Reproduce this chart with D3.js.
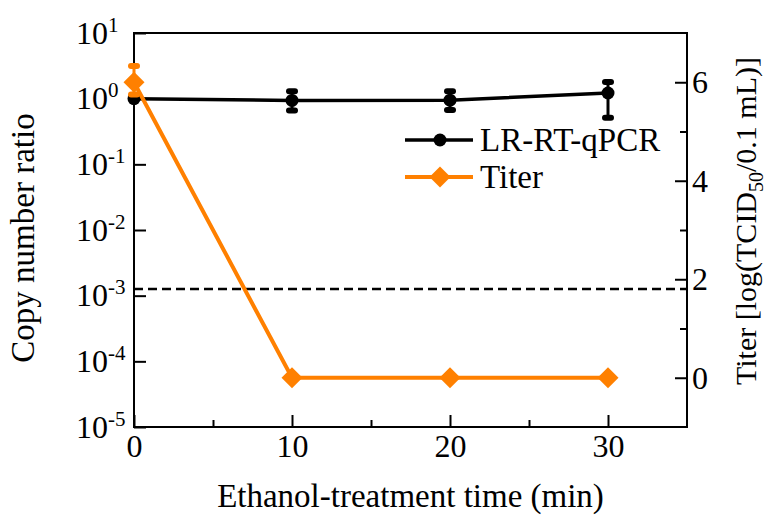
<!DOCTYPE html>
<html>
<head>
<meta charset="utf-8">
<script src="https://cdn.jsdelivr.net/npm/d3@7"></script>
<style>
  body { margin: 0; background: #fff; }
</style>
</head>
<body>
<script>
// data
const times = [0, 10, 20, 30];
const qpcrMean = [1.0, 0.94, 0.95, 1.22];
const qpcrErrUp = [0, 0.36, 0.35, 0.58];
const qpcrErrDown = [0, 0.28, 0.28, 0.71];
const titerMean = [6.0, 0, 0, 0];
const titerErrUp = [0.33, 0, 0, 0];
const titerErrDown = [0.25, 0, 0, 0];
const detectionLimit = 1.8;

const xTicks = [0, 10, 20, 30];
const xMinorTicks = [5, 15, 25];
const leftTicks = [1e-5, 1e-4, 1e-3, 1e-2, 1e-1, 1, 10];
const leftTickExp = ["-5", "-4", "-3", "-2", "-1", "0", "1"];
const rightTicks = [0, 2, 4, 6];
const rightMinorTicks = [1, 3, 5];
const seriesNames = ["LR-RT-qPCR", "Titer"];
const seriesColors = ["#000000", "#ff8000"];

const serif = '"Liberation Serif"';

let margin = null, width = null, height = null;
let svg = null;
let x, yL, yR = null;

setupCanvasSize();
appendSvg("body");
setupScales();
appendAxes();
appendDetectionLimit();
appendQpcr();
appendTiter();
appendLegend();
appendTitles();

function setupCanvasSize() {
  margin = {top: 33, left: 134, bottom: 88, right: 80};
  width = 767 - margin.left - margin.right;
  height = 515 - margin.top - margin.bottom;
}

function appendSvg(domElement) {
  svg = d3.select(domElement).append("svg")
    .attr("width", width + margin.left + margin.right)
    .attr("height", height + margin.top + margin.bottom)
    .attr("font-family", serif)
    .append("g")
    .attr("transform", `translate(${margin.left}, ${margin.top})`);
}

function setupScales() {
  x = d3.scaleLinear().domain([0, 35]).range([0, width]);
  yL = d3.scaleLog().domain([1e-5, 10]).range([height, 0]);
  yR = d3.scaleLinear().domain([-1, 7]).range([height, 0]);
}

function styleAxis(g) {
  g.select(".domain").remove();
  g.selectAll(".tick line").attr("stroke", "#000").attr("stroke-width", 2);
  g.attr("font-size", 32).attr("font-family", serif);
}

function appendAxes() {
  // bottom
  svg.append("g")
    .attr("transform", `translate(0, ${height})`)
    .call(d3.axisBottom(x).tickValues(xTicks).tickSizeInner(-12).tickSizeOuter(0).tickPadding(7))
    .call(styleAxis);
  svg.append("g")
    .attr("transform", `translate(0, ${height})`)
    .call(d3.axisBottom(x).tickValues(xMinorTicks).tickSizeInner(-7).tickSizeOuter(0).tickFormat(""))
    .call(styleAxis);

  // left, log scale with 10^n labels
  let left = svg.append("g")
    .call(d3.axisLeft(yL).tickValues(leftTicks).tickSizeInner(-12).tickSizeOuter(0).tickFormat(""))
    .call(styleAxis);
  left.selectAll(".tick text").remove();
  left.selectAll(".tick").each(function(d, i) {
    let t = d3.select(this).append("text")
      .attr("x", 76 - margin.left)
      .attr("dy", "0.32em")
      .attr("text-anchor", "start")
      .attr("fill", "#000");
    t.append("tspan").text("10");
    t.append("tspan").attr("font-size", 21).attr("dy", -12).text(leftTickExp[i]);
  });

  // right
  svg.append("g")
    .attr("transform", `translate(${width}, 0)`)
    .call(d3.axisRight(yR).tickValues(rightTicks).tickSizeInner(-12).tickSizeOuter(0).tickPadding(5))
    .call(styleAxis);
  svg.append("g")
    .attr("transform", `translate(${width}, 0)`)
    .call(d3.axisRight(yR).tickValues(rightMinorTicks).tickSizeInner(-7).tickSizeOuter(0).tickFormat(""))
    .call(styleAxis);

  // frame
  svg.append("rect")
    .attr("width", width)
    .attr("height", height)
    .attr("fill", "none")
    .attr("stroke", "#000")
    .attr("stroke-width", 2);
}

function appendDetectionLimit() {
  svg.append("line")
    .attr("x1", 0).attr("x2", width)
    .attr("y1", yR(detectionLimit)).attr("y2", yR(detectionLimit))
    .attr("stroke", "#000")
    .attr("stroke-width", 2.5)
    .attr("stroke-dasharray", "9,5");
}

function appendErrorBars(yScale, means, up, down, color) {
  let data = times.map((t, i) => ({t: t, m: means[i], u: up[i], d: down[i]}))
    .filter(d => d.u > 0 || d.d > 0);
  let bars = svg.append("g").selectAll("g").data(data).enter().append("g");
  bars.append("line")
    .attr("x1", d => x(d.t)).attr("x2", d => x(d.t))
    .attr("y1", d => yScale(d.m + d.u)).attr("y2", d => yScale(d.m - d.d))
    .attr("stroke", color).attr("stroke-width", 3);
  bars.selectAll("rect")
    .data(d => [{t: d.t, v: d.m + d.u}, {t: d.t, v: d.m - d.d}])
    .enter().append("rect")
    .attr("x", d => x(d.t) - 6)
    .attr("y", d => yScale(d.v) - 3)
    .attr("width", 12).attr("height", 6)
    .attr("rx", 3)
    .attr("fill", color);
}

function appendQpcr() {
  let line = d3.line().x((d, i) => x(times[i])).y(d => yL(d));
  svg.append("path")
    .datum(qpcrMean)
    .attr("d", line)
    .attr("fill", "none")
    .attr("stroke", seriesColors[0])
    .attr("stroke-width", 3.5);
  appendErrorBars(yL, qpcrMean, qpcrErrUp, qpcrErrDown, seriesColors[0]);
  svg.append("g").selectAll("circle")
    .data(qpcrMean).enter().append("circle")
    .attr("cx", (d, i) => x(times[i]))
    .attr("cy", d => yL(d))
    .attr("r", 6.5)
    .attr("fill", seriesColors[0]);
}

function appendTiter() {
  let line = d3.line().x((d, i) => x(times[i])).y(d => yR(d));
  svg.append("path")
    .datum(titerMean)
    .attr("d", line)
    .attr("fill", "none")
    .attr("stroke", seriesColors[1])
    .attr("stroke-width", 4);
  appendErrorBars(yR, titerMean, titerErrUp, titerErrDown, seriesColors[1]);
  svg.append("g").selectAll("path")
    .data(titerMean).enter().append("path")
    .attr("d", d3.symbol(d3.symbolSquare, 220))
    .attr("transform", (d, i) => `translate(${x(times[i])}, ${yR(d)}) rotate(45)`)
    .attr("fill", seriesColors[1]);
}

function appendLegend() {
  let legend = svg.selectAll(".legend")
    .data(seriesNames)
    .enter()
    .append("g")
    .attr("class", "legend")
    .attr("transform", (d, i) => `translate(${405 - margin.left}, ${140 - margin.top + i * 37})`);
  legend.append("line")
    .attr("x1", 0).attr("x2", 68)
    .attr("stroke", (d, i) => seriesColors[i])
    .attr("stroke-width", (d, i) => i == 0 ? 3.5 : 4);
  legend.filter((d, i) => i == 0).append("circle")
    .attr("cx", 35).attr("r", 6.5).attr("fill", seriesColors[0]);
  legend.filter((d, i) => i == 1).append("path")
    .attr("d", d3.symbol(d3.symbolSquare, 220))
    .attr("transform", "translate(35, 0) rotate(45)")
    .attr("fill", seriesColors[1]);
  legend.append("text")
    .attr("x", 75)
    .attr("dy", "0.33em")
    .attr("font-size", 33)
    .text(d => d);
}

function appendTitles() {
  svg.append("text")
    .attr("x", width / 2)
    .attr("y", 507 - margin.top)
    .attr("text-anchor", "middle")
    .attr("font-size", 33)
    .text("Ethanol-treatment time (min)");

  svg.append("text")
    .attr("transform", `translate(${34 - margin.left}, ${238 - margin.top}) rotate(-90)`)
    .attr("text-anchor", "middle")
    .attr("font-size", 33)
    .text("Copy number ratio");

  let rt = svg.append("text")
    .attr("transform", `translate(${756 - margin.left}, ${221 - margin.top}) rotate(-90)`)
    .attr("text-anchor", "middle")
    .attr("font-size", 30);
  rt.append("tspan").text("Titer [log(TCID");
  rt.append("tspan").attr("font-size", 20).attr("dy", 7).text("50");
  rt.append("tspan").attr("dy", -7).text("/0.1 mL)]");
}
</script>
</body>
</html>
